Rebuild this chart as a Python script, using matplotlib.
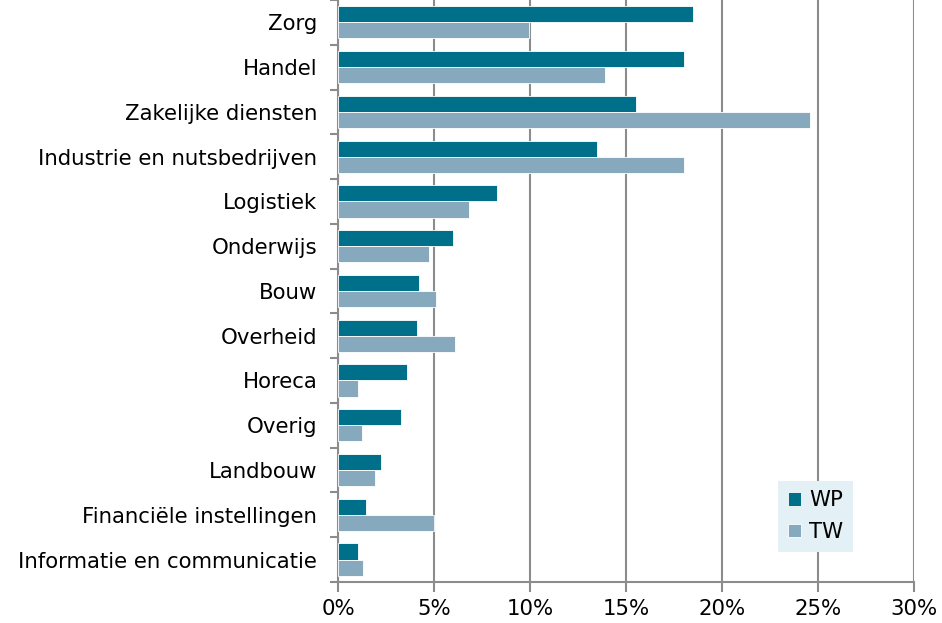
import matplotlib.pyplot as plt
import numpy as np
from matplotlib.ticker import FuncFormatter

sectors = ["Zorg", "Handel", "Zakelijke diensten", "Industrie en nutsbedrijven",
           "Logistiek", "Onderwijs", "Bouw", "Overheid", "Horeca", "Overig",
           "Landbouw", "Financiële instellingen", "Informatie en communicatie"]
wp = [18.5, 18.0, 15.5, 13.5, 8.3, 6.0, 4.2, 4.1, 3.6, 3.3, 2.25, 1.45, 1.05]
tw = [9.95, 13.9, 24.6, 18.0, 6.8, 4.75, 5.1, 6.1, 1.05, 1.25, 1.9, 5.0, 1.3]

wp_color = "#006f8a"
tw_color = "#86a9bd"
grey = "#8c8c8c"
fs = 15.3

plt.rcParams['font.family'] = ['DejaVu Sans']
fig = plt.figure(figsize=(9.42, 6.23), dpi=100)
ax = fig.add_axes([0.359, 0.066, 0.611, 0.934])

y = np.arange(len(sectors))
h = 0.36
ax.barh(y - h / 2, wp, height=h, color=wp_color, edgecolor="white", linewidth=0.6, label="WP", zorder=3)
ax.barh(y + h / 2, tw, height=h, color=tw_color, edgecolor="white", linewidth=0.6, label="TW", zorder=3)

ax.set_xlim(0, 30)
ax.set_ylim(len(sectors) - 0.5, -0.5)
ax.set_xticks(range(0, 31, 5))
ax.xaxis.set_major_formatter(FuncFormatter(lambda v, p: f"{int(v)}%"))
ax.set_yticks(y)
ax.set_yticklabels(sectors)
ax.set_yticks(np.arange(-0.5, len(sectors)), minor=True)
ax.tick_params(axis="y", which="major", length=0, pad=15, labelsize=fs)
ax.tick_params(axis="y", which="minor", length=6, width=1.5, color=grey)
ax.tick_params(axis="x", length=7, width=1.5, color=grey, labelsize=fs, pad=5)

ax.grid(axis="x", color=grey, linewidth=1.5, zorder=0)
for side in ["top", "right"]:
    ax.spines[side].set_visible(False)
for side in ["left", "bottom"]:
    ax.spines[side].set_color(grey)
    ax.spines[side].set_linewidth(1.5)

leg = ax.legend(loc="lower right", bbox_to_anchor=(0.894, 0.052), borderaxespad=0,
                frameon=True, fancybox=False, fontsize=fs, handlelength=0.6, handleheight=0.6,
                handletextpad=0.4, borderpad=0.45, labelspacing=0.55, edgecolor="none")
leg.get_frame().set_facecolor("#e3f0f5")
leg.get_frame().set_alpha(1)

fig.savefig("out.png", dpi=100)
